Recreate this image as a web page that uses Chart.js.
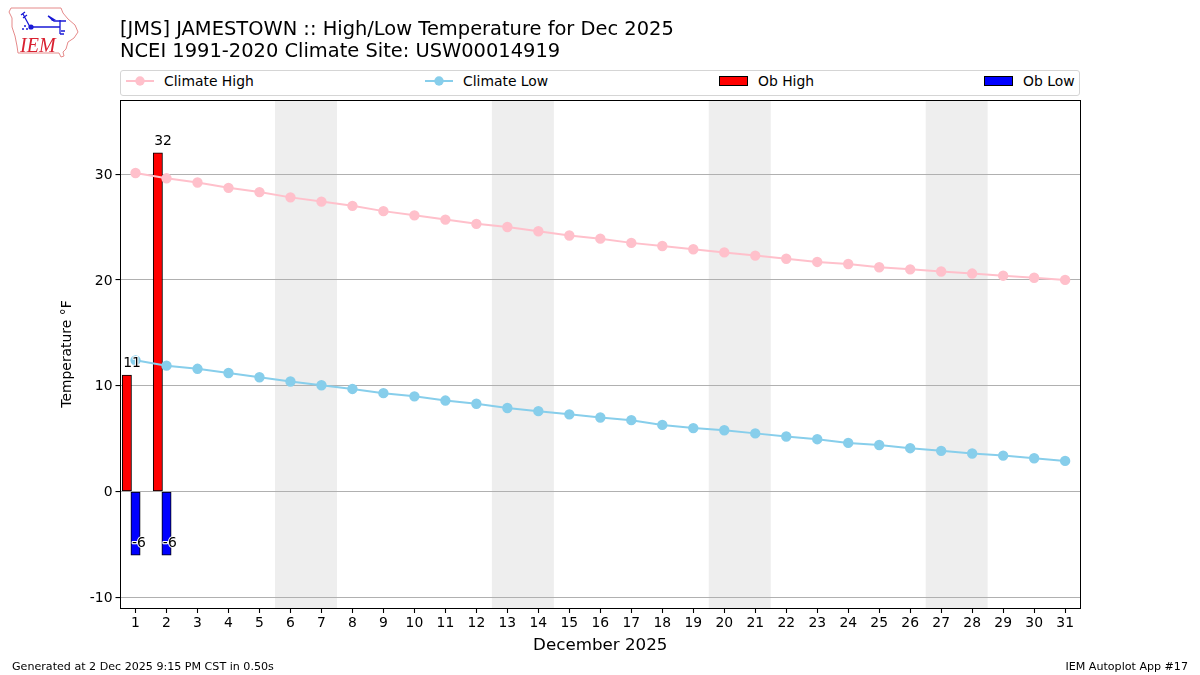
<!DOCTYPE html>
<html>
<head>
<meta charset="utf-8">
<title>JMS High/Low Temperature</title>
<script src="https://cdn.jsdelivr.net/npm/chart.js@4"></script>
<style>
  html, body { margin: 0; padding: 0; background: #fff; }
  body { width: 1200px; height: 675px; position: relative; overflow: hidden; font-family: "DejaVu Sans", sans-serif; color: #000; }
  #wrap { position: absolute; left: 0; top: 0; width: 1200px; height: 675px; }
  .abs { position: absolute; white-space: nowrap; }
  #titulo { left: 120px; top: 18px; font-size: 19.45px; line-height: 22px; }
  #legenda { left: 120px; top: 70px; width: 958px; height: 23.5px; border: 1px solid #d5d5d5; border-radius: 3px; background: #fff; }
  .leg-txt { position: absolute; top: 2px; font-size: 13.9px; line-height: 17px; }
  .leg-ico { position: absolute; top: -1px; }
  .rodape { top: 660px; font-size: 11.1px; line-height: 14px; }
  #logo { left: 8px; top: 5px; }
</style>
</head>
<body>
<div id="wrap"><canvas id="grafico" width="1200" height="675"></canvas></div>
<svg id="logo" class="abs" width="72" height="55" viewBox="8 5 72 55">
  <path d="M11 8 L61 8 L63 13 L68 19 L75 25 L78 32 L74 38 L68 42 L66 49 L63 52 L64 56 L61 57 L59 53 L18 53 L17 46 L15 36 L12 27 L12 18 L9 12 Z" fill="#fff" stroke="#e58a8a" stroke-width="1"/>
  <path d="M30 27 L60 27 M60 20 L60 34 M48 16 L54 21 L66 21 M23 14 L30 27 M21 15 L25 12 M23 18 L27 15 M60 34 L64 34 M61 31 L65 31" fill="none" stroke="#1a1ad6" stroke-width="1.3"/>
  <path d="M48 15 L56 20 L52 21 Z" fill="#1a1ad6"/>
  <circle cx="31" cy="27" r="2.6" fill="#1a1ad6"/>
  <circle cx="25" cy="26" r="1" fill="#1a1ad6"/>
  <circle cx="23" cy="29" r="1" fill="#1a1ad6"/>
  <circle cx="27" cy="29" r="1" fill="#1a1ad6"/>
  <text x="20" y="52" font-family="Liberation Serif" font-style="italic" font-size="20" fill="#d92030">IEM</text>
</svg>
<div id="titulo" class="abs"></div>
<div id="legenda" class="abs"></div>
<div class="abs rodape" id="rodapeEsq" style="left:12px"></div>
<div class="abs rodape" id="rodapeDir" style="right:12px"></div>

<script>
const dias = [1, 2, 3, 4, 5, 6, 7, 8, 9, 10, 11, 12, 13, 14, 15, 16, 17, 18, 19, 20, 21, 22, 23, 24, 25, 26, 27, 28, 29, 30, 31];
const climaAlta = [30.1, 29.6, 29.2, 28.7, 28.3, 27.8, 27.4, 27.0, 26.5, 26.1, 25.7, 25.3, 25.0, 24.6, 24.2, 23.9, 23.5, 23.2, 22.9, 22.6, 22.3, 22.0, 21.7, 21.5, 21.2, 21.0, 20.8, 20.6, 20.4, 20.2, 20.0];
const climaBaixa = [12.4, 11.9, 11.6, 11.2, 10.8, 10.4, 10.05, 9.7, 9.3, 9.0, 8.6, 8.3, 7.9, 7.6, 7.3, 7.0, 6.75, 6.3, 6.0, 5.8, 5.5, 5.2, 4.95, 4.6, 4.4, 4.1, 3.85, 3.6, 3.4, 3.15, 2.9];
const diasObs = [1, 2];
const obsAlta = [11, 32];
const obsBaixa = [-6, -6];
const fimDeSemana = [[5.5, 7.5], [12.5, 14.5], [19.5, 21.5], [26.5, 28.5]];

const titulos = ['[JMS] JAMESTOWN :: High/Low Temperature for Dec 2025', 'NCEI 1991-2020 Climate Site: USW00014919'];
const rotulosLegenda = ['Climate High', 'Climate Low', 'Ob High', 'Ob Low'];
const rotuloX = 'December 2025';
const rotuloY = 'Temperature °F';
const rodapes = ['Generated at 2 Dec 2025 9:15 PM CST in 0.50s', 'IEM Autoplot App #17'];

const FONTE = '"DejaVu Sans", sans-serif';
const DESLOCA_ALTA = 0.28; // barra da máxima fica à esquerda do dia

// Faixas cinza dos fins de semana, debaixo da grade
const faixasPlugin = {
    id: 'faixas',
    beforeDraw(chart) {
        const { ctx, chartArea, scales } = chart;
        ctx.save();
        ctx.fillStyle = '#eeeeee';
        fimDeSemana.forEach(([ini, fim]) => {
            const x0 = scales.x.getPixelForValue(ini);
            const x1 = scales.x.getPixelForValue(fim);
            ctx.fillRect(x0, chartArea.top, x1 - x0, chartArea.bottom - chartArea.top);
        });
        ctx.restore();
    }
};

// Valores observados em cima das barras + moldura do gráfico
const rotulosPlugin = {
    id: 'rotulos',
    afterDatasetsDraw(chart) {
        const { ctx, chartArea } = chart;
        ctx.save();
        ctx.strokeStyle = '#000';
        ctx.lineWidth = 1;
        const esq = Math.floor(chartArea.left) + 0.5;
        const topo = Math.floor(chartArea.top) + 0.5;
        ctx.strokeRect(esq, topo, Math.round(chartArea.right) + 0.5 - esq, Math.round(chartArea.bottom) + 0.5 - topo);

        ctx.font = '13.9px ' + FONTE;
        ctx.textAlign = 'left';
        ctx.textBaseline = 'alphabetic';
        ctx.lineJoin = 'round';
        [2, 3].forEach((idx) => {
            const dados = chart.data.datasets[idx].data;
            chart.getDatasetMeta(idx).data.forEach((barra, i) => {
                const txt = String(dados[i].y);
                const x = barra.x - barra.width / 2 + 1;
                const y = barra.y - 8;
                ctx.strokeStyle = '#fff';
                ctx.lineWidth = 2;
                ctx.strokeText(txt, x, y);
                ctx.fillStyle = '#000';
                ctx.fillText(txt, x, y);
            });
        });
        ctx.restore();
    }
};

function montaTextos() {
    document.getElementById('titulo').innerHTML = titulos.join('<br>');
    document.getElementById('rodapeEsq').textContent = rodapes[0];
    document.getElementById('rodapeDir').textContent = rodapes[1];
}

function montaLegenda() {
    const caixa = document.getElementById('legenda');
    const posIcone = [5, 304, 598, 863];
    const cores = ['#ffc0cb', '#87ceeb', '#ff0000', '#0000ff'];
    rotulosLegenda.forEach((rotulo, i) => {
        const svg = i < 2
            ? `<line x1="0" y1="11" x2="28" y2="11" stroke="${cores[i]}" stroke-width="2"/><circle cx="14" cy="11" r="4.7" fill="${cores[i]}"/>`
            : `<rect x="0.5" y="6.5" width="28" height="9" fill="${cores[i]}" stroke="#000" stroke-width="1"/>`;
        const folga = i < 2 ? 38 : 39;
        caixa.insertAdjacentHTML('beforeend',
            `<svg class="leg-ico" style="left:${posIcone[i]}px" width="30" height="23">${svg}</svg>` +
            `<span class="leg-txt" style="left:${posIcone[i] + folga}px">${rotulo}</span>`);
    });
}

function initGrafico() {
    const ctx = document.getElementById('grafico').getContext('2d');
    Chart.defaults.font.family = FONTE;
    Chart.defaults.font.size = 13.9;
    Chart.defaults.color = '#000';

    new Chart(ctx, {
        data: {
            datasets: [
                {
                    type: 'line',
                    label: rotulosLegenda[0],
                    data: dias.map((d, i) => ({ x: d, y: climaAlta[i] })),
                    borderColor: '#ffc0cb',
                    backgroundColor: '#ffc0cb',
                    borderWidth: 2,
                    pointRadius: 4.2,
                    tension: 0
                },
                {
                    type: 'line',
                    label: rotulosLegenda[1],
                    data: dias.map((d, i) => ({ x: d, y: climaBaixa[i] })),
                    borderColor: '#87ceeb',
                    backgroundColor: '#87ceeb',
                    borderWidth: 2,
                    pointRadius: 4.2,
                    tension: 0
                },
                {
                    type: 'bar',
                    label: rotulosLegenda[2],
                    data: diasObs.map((d, i) => ({ x: d - DESLOCA_ALTA, y: obsAlta[i] })),
                    backgroundColor: '#ff0000',
                    borderColor: '#000',
                    borderWidth: 1,
                    borderSkipped: false,
                    barThickness: 9.3,
                    grouped: false
                },
                {
                    type: 'bar',
                    label: rotulosLegenda[3],
                    data: diasObs.map((d, i) => ({ x: d, y: obsBaixa[i] })),
                    backgroundColor: '#0000ff',
                    borderColor: '#000',
                    borderWidth: 1,
                    borderSkipped: false,
                    barThickness: 9.3,
                    grouped: false
                }
            ]
        },
        options: {
            responsive: false,
            animation: false,
            devicePixelRatio: 1,
            layout: { padding: { top: 100, right: 120, left: 59, bottom: 19 } },
            plugins: {
                legend: { display: false },
                title: { display: false },
                tooltip: { enabled: false }
            },
            scales: {
                x: {
                    type: 'linear',
                    offset: false,
                    min: 0.515,
                    max: 31.48,
                    afterFit: (s) => { s.height = 48; },
                    ticks: { stepSize: 1, includeBounds: false, autoSkip: false, maxRotation: 0, padding: 2, color: '#000' },
                    grid: { offset: false, drawOnChartArea: false, tickLength: 5, tickColor: '#000', tickWidth: 1.1 },
                    border: { display: false },
                    title: { display: true, text: rotuloX, font: { size: 16.7 }, padding: 0, color: '#000' }
                },
                y: {
                    min: -11,
                    max: 37,
                    afterFit: (s) => { s.width = 61.5; },
                    ticks: { stepSize: 10, includeBounds: false, padding: 3, labelOffset: 1, color: '#000' },
                    grid: { color: '#b0b0b0', lineWidth: 1.1, tickLength: 5, tickColor: '#000', tickWidth: 1.1 },
                    border: { display: false },
                    title: { display: true, text: rotuloY, font: { size: 13.9 }, padding: 0, color: '#000' }
                }
            }
        },
        plugins: [faixasPlugin, rotulosPlugin]
    });
}

montaTextos();
montaLegenda();
initGrafico();
</script>
</body>
</html>
